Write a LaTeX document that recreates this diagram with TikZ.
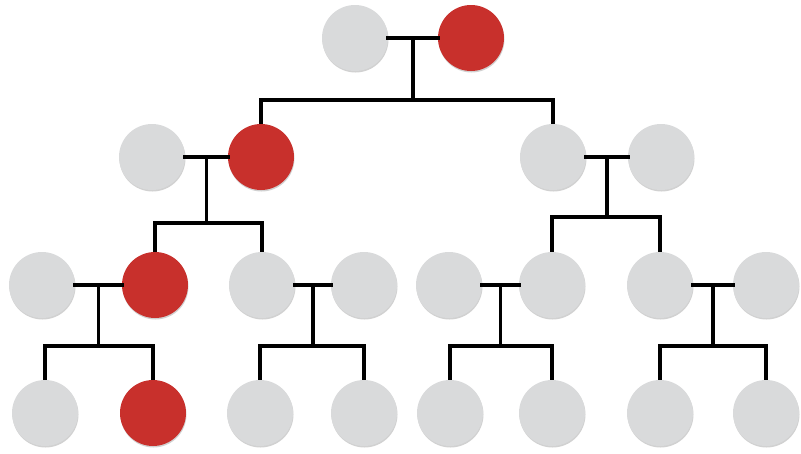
\documentclass[tikz,border=0pt]{standalone}
\usetikzlibrary{calc,shadows}
\definecolor{pgray}{HTML}{D9DADB}
\definecolor{pred}{HTML}{C8302C}
\tikzset{
  person/.style={circle,minimum size=66pt,inner sep=0pt,draw=none,
    drop shadow={shadow xshift=0.5pt,shadow yshift=-1.5pt,opacity=0.3,fill=black!60}},
  pg/.style={person,fill=pgray},
  pr/.style={person,fill=pred},
  link/.style={line width=3.6pt,draw=black,line cap=rect,line join=miter}
}
\begin{document}
\begin{tikzpicture}[x=1pt,y=-1pt]
\useasboundingbox (0,0) rectangle (801,453);
% row 1
\node[pg] (A1) at (355,38) {};
\node[pr] (A2) at (471,38) {};
% row 2
\node[pg] (B1) at (152,157) {};
\node[pr] (B2) at (261,157) {};
\node[pg] (C1) at (553,157) {};
\node[pg] (C2) at (661,157) {};
% row 3
\node[pg] (D1) at (42,285) {};
\node[pr] (D2) at (155,285) {};
\node[pg] (E1) at (262,285) {};
\node[pg] (E2) at (364,285) {};
\node[pg] (F1) at (449,285) {};
\node[pg] (F2) at (552,285) {};
\node[pg] (G1) at (660,285) {};
\node[pg] (G2) at (766,285) {};
% row 4
\node[pg] (H1) at (45,413) {};
\node[pr] (H2) at (153,413) {};
\node[pg] (I1) at (260,413) {};
\node[pg] (I2) at (364,413) {};
\node[pg] (J1) at (450,413) {};
\node[pg] (J2) at (552,413) {};
\node[pg] (K1) at (660,413) {};
\node[pg] (K2) at (766,413) {};
% junctions
\coordinate (mA) at ($(A1)!0.5!(A2)$);
\coordinate (mB) at ($(B1)!0.5!(B2)$);
\coordinate (mC) at ($(C1)!0.5!(C2)$);
\coordinate (mD) at ($(D1)!0.5!(D2)$);
\coordinate (mE) at ($(E1)!0.5!(E2)$);
\coordinate (mF) at ($(F1)!0.5!(F2)$);
\coordinate (mG) at ($(G1)!0.5!(G2)$);
\coordinate (bA) at ($(mA)+(0,62)$);
\coordinate (bB) at ($(mB)+(0,66)$);
\coordinate (bC) at ($(mC)+(0,60)$);
\coordinate (bD) at ($(mD)+(0,61)$);
\coordinate (bE) at ($(mE)+(0,61)$);
\coordinate (bF) at ($(mF)+(0,61)$);
\coordinate (bG) at ($(mG)+(0,61)$);
% couples and descents
\foreach \p/\q/\m/\b/\c/\d in {A1/A2/mA/bA/B2/C1, B1/B2/mB/bB/D2/E1, C1/C2/mC/bC/F2/G1,
  D1/D2/mD/bD/H1/H2, E1/E2/mE/bE/I1/I2, F1/F2/mF/bF/J1/J2, G1/G2/mG/bG/K1/K2}{
  \draw[link] (\p) -- (\q);
  \draw[link] (\m) -- (\b);
  \draw[link,line cap=butt] (\c.north) |- (\b) -| (\d.north);
}
\end{tikzpicture}
\end{document}
